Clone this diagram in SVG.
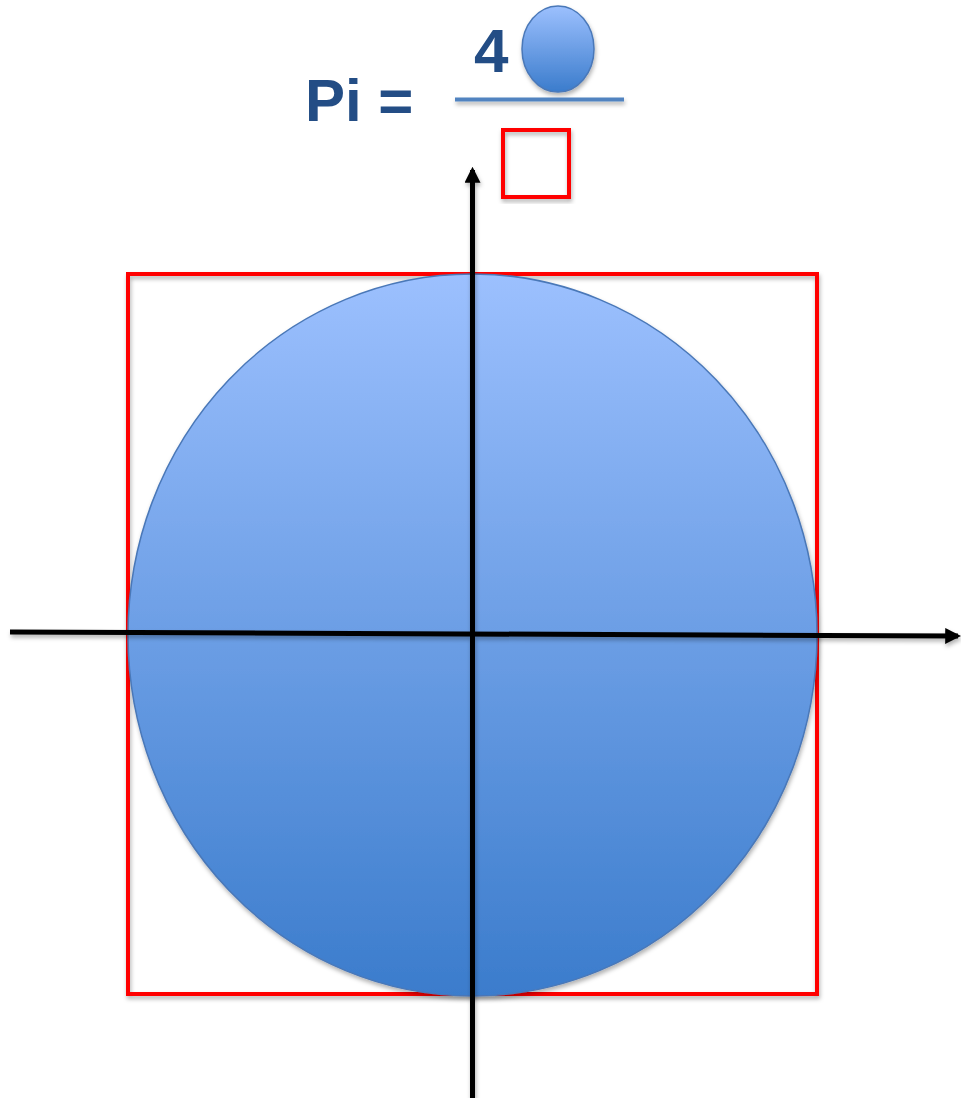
<svg xmlns="http://www.w3.org/2000/svg" width="961" height="1098" viewBox="0 0 961 1098">
<defs>
<linearGradient id="g" x1="0" y1="0" x2="0" y2="1">
<stop offset="0" stop-color="#9cc0fe"/>
<stop offset="1" stop-color="#3b7ccc"/>
</linearGradient>
<filter id="sh" x="-10%" y="-10%" width="120%" height="120%">
<feDropShadow dx="1" dy="3" stdDeviation="2" flood-color="#000" flood-opacity="0.3"/>
</filter>
<filter id="shu" filterUnits="userSpaceOnUse" x="0" y="0" width="961" height="1098">
<feDropShadow dx="1" dy="3" stdDeviation="2" flood-color="#000" flood-opacity="0.3"/>
</filter>
<marker id="ah" viewBox="0 0 10 10" refX="8" refY="5" markerWidth="3.2" markerHeight="3.2" orient="auto" markerUnits="strokeWidth">
<path d="M0,0 L10,5 L0,10 z" fill="#000"/>
</marker>
<style>
.red{fill:none;stroke:#ff0000;stroke-width:4}
.blob{fill:url(#g);stroke:#4a78b8;stroke-width:1.5}
.ax{stroke:#000;stroke-width:5;fill:none}
.t{font-family:"Liberation Sans",Arial,sans-serif;font-weight:bold;fill:#234d85}
</style>
</defs>
<g id="square" filter="url(#sh)"><rect class="red" x="128" y="274" width="689" height="720"/></g>
<g id="circle" filter="url(#sh)"><ellipse class="blob" cx="472.5" cy="635" rx="344.5" ry="361"/></g>
<g id="connectors" filter="url(#shu)">
<line class="ax" x1="10" y1="632" x2="958" y2="636" marker-end="url(#ah)"/>
<line class="ax" x1="472.5" y1="1098" x2="472.5" y2="170" marker-end="url(#ah)"/>
</g>
<g id="formula">
<text class="t" x="305" y="121" font-size="60">Pi =</text>
<text class="t" x="474" y="72" font-size="62">4</text>
<ellipse class="blob" cx="558" cy="49" rx="36" ry="43" filter="url(#sh)"/>
<line x1="455" y1="99.5" x2="624" y2="99.5" stroke="#5183c0" stroke-width="4" filter="url(#shu)"/>
<rect class="red" x="503" y="130" width="66" height="67" filter="url(#sh)"/>
</g>
</svg>
